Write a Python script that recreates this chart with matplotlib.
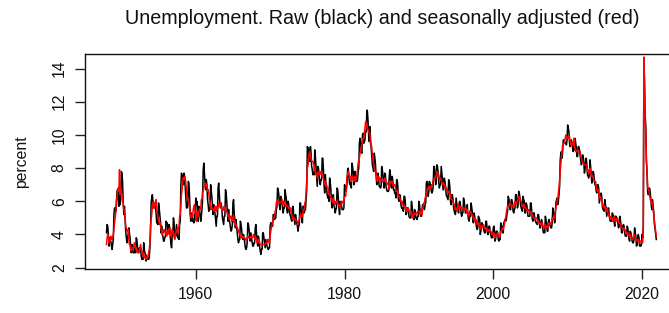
import numpy as np
import matplotlib
matplotlib.use("Agg")
import matplotlib.pyplot as plt

start_year = 1948

# Seasonally adjusted unemployment rate, monthly, one row per year (1948-2021)
sa_rate = [
    [3.4, 3.8, 4.0, 3.9, 3.5, 3.6, 3.6, 3.9, 3.8, 3.7, 3.8, 4.0],
    [4.3, 4.7, 5.0, 5.3, 6.1, 6.2, 6.7, 6.8, 6.6, 7.9, 6.4, 6.6],
    [6.5, 6.4, 6.3, 5.8, 5.5, 5.4, 5.0, 4.5, 4.4, 4.2, 4.2, 4.3],
    [3.7, 3.4, 3.4, 3.1, 3.0, 3.2, 3.1, 3.1, 3.3, 3.5, 3.5, 3.1],
    [3.2, 3.1, 2.9, 2.9, 3.0, 3.0, 3.2, 3.4, 3.1, 3.0, 2.8, 2.7],
    [2.9, 2.6, 2.6, 2.7, 2.5, 2.5, 2.6, 2.7, 2.9, 3.1, 3.5, 4.5],
    [4.9, 5.2, 5.7, 5.9, 5.9, 5.6, 5.8, 6.0, 6.1, 5.7, 5.3, 5.0],
    [4.9, 4.7, 4.6, 4.7, 4.3, 4.2, 4.0, 4.2, 4.1, 4.3, 4.2, 4.2],
    [4.0, 3.9, 4.2, 4.0, 4.3, 4.3, 4.4, 4.1, 3.9, 3.9, 4.3, 4.2],
    [4.2, 3.9, 3.7, 3.9, 4.1, 4.3, 4.2, 4.1, 4.4, 4.5, 5.1, 5.2],
    [5.8, 6.4, 6.7, 7.4, 7.4, 7.3, 7.5, 7.4, 7.1, 6.7, 6.2, 6.2],
    [6.0, 5.9, 5.6, 5.2, 5.1, 5.0, 5.1, 5.2, 5.5, 5.7, 5.8, 5.3],
    [5.2, 4.8, 5.4, 5.2, 5.1, 5.4, 5.5, 5.6, 5.5, 6.1, 6.1, 6.6],
    [6.6, 6.9, 6.9, 7.0, 7.1, 6.9, 7.0, 6.6, 6.7, 6.5, 6.1, 6.0],
    [5.8, 5.5, 5.6, 5.6, 5.5, 5.5, 5.4, 5.7, 5.6, 5.4, 5.7, 5.5],
    [5.7, 5.9, 5.7, 5.7, 5.9, 5.6, 5.6, 5.4, 5.5, 5.5, 5.7, 5.5],
    [5.6, 5.4, 5.4, 5.3, 5.1, 5.2, 4.9, 5.0, 5.1, 5.1, 4.8, 5.0],
    [4.9, 5.1, 4.7, 4.8, 4.6, 4.6, 4.4, 4.4, 4.3, 4.2, 4.1, 4.0],
    [4.0, 3.8, 3.8, 3.8, 3.9, 3.8, 3.8, 3.8, 3.7, 3.7, 3.6, 3.8],
    [3.9, 3.8, 3.8, 3.8, 3.8, 3.9, 3.8, 3.8, 3.8, 4.0, 3.9, 3.8],
    [3.7, 3.8, 3.7, 3.5, 3.5, 3.7, 3.7, 3.5, 3.4, 3.4, 3.4, 3.4],
    [3.4, 3.4, 3.4, 3.4, 3.4, 3.5, 3.5, 3.5, 3.7, 3.7, 3.5, 3.5],
    [3.9, 4.2, 4.4, 4.6, 4.8, 4.9, 5.0, 5.1, 5.4, 5.5, 5.9, 6.1],
    [5.9, 5.9, 6.0, 5.9, 5.9, 5.9, 6.0, 6.1, 6.0, 5.8, 6.0, 6.0],
    [5.8, 5.7, 5.8, 5.7, 5.7, 5.7, 5.6, 5.6, 5.5, 5.6, 5.3, 5.2],
    [4.9, 5.0, 4.9, 5.0, 4.9, 4.9, 4.8, 4.8, 4.8, 4.6, 4.8, 4.9],
    [5.1, 5.2, 5.1, 5.1, 5.1, 5.4, 5.5, 5.5, 5.9, 6.0, 6.6, 7.2],
    [8.1, 8.1, 8.6, 8.8, 9.0, 8.8, 8.6, 8.4, 8.4, 8.4, 8.3, 8.2],
    [7.9, 7.7, 7.6, 7.7, 7.4, 7.6, 7.8, 7.8, 7.6, 7.7, 7.8, 7.8],
    [7.5, 7.6, 7.4, 7.2, 7.0, 7.2, 6.9, 7.0, 6.8, 6.8, 6.8, 6.4],
    [6.4, 6.3, 6.3, 6.1, 6.0, 5.9, 6.2, 5.9, 6.0, 5.8, 5.9, 6.0],
    [5.9, 5.9, 5.8, 5.8, 5.6, 5.7, 5.7, 6.0, 5.9, 6.0, 5.9, 6.0],
    [6.3, 6.3, 6.3, 6.9, 7.5, 7.6, 7.8, 7.7, 7.5, 7.5, 7.5, 7.2],
    [7.5, 7.4, 7.4, 7.2, 7.5, 7.5, 7.2, 7.4, 7.6, 7.9, 8.3, 8.5],
    [8.6, 8.9, 9.0, 9.3, 9.4, 9.6, 9.8, 9.8, 10.1, 10.4, 10.8, 10.8],
    [10.4, 10.4, 10.3, 10.2, 10.1, 10.1, 9.4, 9.5, 9.2, 8.8, 8.5, 8.3],
    [8.0, 7.8, 7.8, 7.7, 7.4, 7.2, 7.5, 7.5, 7.3, 7.4, 7.2, 7.3],
    [7.3, 7.2, 7.2, 7.3, 7.2, 7.4, 7.4, 7.1, 7.1, 7.1, 7.0, 7.0],
    [6.7, 7.2, 7.2, 7.1, 7.2, 7.2, 7.0, 6.9, 7.0, 7.0, 6.9, 6.6],
    [6.6, 6.6, 6.6, 6.3, 6.3, 6.2, 6.1, 6.0, 5.9, 6.0, 5.8, 5.7],
    [5.7, 5.7, 5.7, 5.4, 5.6, 5.4, 5.4, 5.6, 5.4, 5.4, 5.3, 5.3],
    [5.4, 5.2, 5.0, 5.2, 5.2, 5.3, 5.2, 5.2, 5.3, 5.3, 5.4, 5.4],
    [5.4, 5.3, 5.2, 5.4, 5.4, 5.2, 5.5, 5.7, 5.9, 5.9, 6.2, 6.3],
    [6.4, 6.6, 6.8, 6.7, 6.9, 6.9, 6.8, 6.9, 6.9, 7.0, 7.0, 7.3],
    [7.3, 7.4, 7.4, 7.4, 7.6, 7.8, 7.7, 7.6, 7.6, 7.3, 7.4, 7.4],
    [7.3, 7.1, 7.0, 7.1, 7.1, 7.0, 6.9, 6.8, 6.7, 6.8, 6.6, 6.5],
    [6.6, 6.6, 6.5, 6.4, 6.1, 6.1, 6.1, 6.0, 5.9, 5.8, 5.6, 5.5],
    [5.6, 5.4, 5.4, 5.8, 5.6, 5.6, 5.7, 5.7, 5.6, 5.5, 5.6, 5.6],
    [5.6, 5.5, 5.5, 5.6, 5.6, 5.3, 5.5, 5.1, 5.2, 5.2, 5.4, 5.4],
    [5.3, 5.2, 5.2, 5.1, 4.9, 5.0, 4.9, 4.8, 4.9, 4.7, 4.6, 4.7],
    [4.6, 4.6, 4.7, 4.3, 4.4, 4.5, 4.5, 4.5, 4.6, 4.5, 4.4, 4.4],
    [4.3, 4.4, 4.2, 4.3, 4.2, 4.3, 4.3, 4.2, 4.2, 4.1, 4.1, 4.0],
    [4.0, 4.1, 4.0, 3.8, 4.0, 4.0, 4.0, 4.1, 3.9, 3.9, 3.9, 3.9],
    [4.2, 4.2, 4.3, 4.4, 4.3, 4.5, 4.6, 4.9, 5.0, 5.3, 5.5, 5.7],
    [5.7, 5.7, 5.7, 5.9, 5.8, 5.8, 5.8, 5.7, 5.7, 5.7, 5.9, 6.0],
    [5.8, 5.9, 5.9, 6.0, 6.1, 6.3, 6.2, 6.1, 6.1, 6.0, 5.8, 5.7],
    [5.7, 5.6, 5.8, 5.6, 5.6, 5.6, 5.5, 5.4, 5.4, 5.5, 5.4, 5.4],
    [5.3, 5.4, 5.2, 5.2, 5.1, 5.0, 5.0, 4.9, 5.0, 5.0, 5.0, 4.9],
    [4.7, 4.8, 4.7, 4.7, 4.6, 4.6, 4.7, 4.7, 4.5, 4.4, 4.5, 4.4],
    [4.6, 4.5, 4.4, 4.5, 4.4, 4.6, 4.7, 4.6, 4.7, 4.7, 4.7, 5.0],
    [5.0, 4.9, 5.1, 5.0, 5.4, 5.6, 5.8, 6.1, 6.1, 6.5, 6.8, 7.3],
    [7.8, 8.3, 8.7, 9.0, 9.4, 9.5, 9.5, 9.6, 9.8, 10.0, 9.9, 9.9],
    [9.8, 9.8, 9.9, 9.9, 9.6, 9.4, 9.4, 9.5, 9.5, 9.4, 9.8, 9.3],
    [9.1, 9.0, 9.0, 9.1, 9.0, 9.1, 9.0, 9.0, 9.0, 8.8, 8.6, 8.5],
    [8.3, 8.3, 8.2, 8.2, 8.2, 8.2, 8.2, 8.1, 7.8, 7.8, 7.7, 7.9],
    [8.0, 7.7, 7.5, 7.6, 7.5, 7.5, 7.3, 7.2, 7.2, 7.2, 6.9, 6.7],
    [6.6, 6.7, 6.7, 6.2, 6.3, 6.1, 6.2, 6.1, 5.9, 5.7, 5.8, 5.6],
    [5.7, 5.5, 5.4, 5.4, 5.6, 5.3, 5.2, 5.1, 5.0, 5.0, 5.1, 5.0],
    [4.8, 4.9, 5.0, 5.1, 4.8, 4.9, 4.8, 4.9, 5.0, 4.9, 4.7, 4.7],
    [4.7, 4.6, 4.4, 4.4, 4.4, 4.3, 4.3, 4.4, 4.3, 4.2, 4.2, 4.1],
    [4.0, 4.1, 4.0, 4.0, 3.8, 4.0, 3.8, 3.8, 3.7, 3.8, 3.8, 3.9],
    [4.0, 3.8, 3.8, 3.7, 3.6, 3.6, 3.7, 3.6, 3.5, 3.6, 3.6, 3.6],
    [3.5, 3.5, 4.4, 14.7, 13.2, 11.0, 10.2, 8.4, 7.9, 6.9, 6.7, 6.7],
    [6.4, 6.2, 6.0, 6.1, 5.8, 5.9, 5.4, 5.2, 4.8, 4.5, 4.2, 3.9],
]

# Raw (not seasonally adjusted) unemployment rate, monthly, one row per year
raw_rate = [
    [4.1, 4.6, 4.5, 4.0, 3.3, 3.8, 3.6, 3.6, 3.3, 3.1, 3.4, 3.7],
    [5.2, 5.6, 5.6, 5.4, 5.8, 6.6, 6.7, 6.3, 5.7, 6.6, 5.8, 6.1],
    [7.8, 7.7, 7.1, 5.9, 5.2, 5.7, 5.0, 4.2, 3.8, 3.5, 3.8, 4.0],
    [4.4, 4.1, 3.8, 3.2, 2.9, 3.4, 3.1, 2.9, 2.9, 2.9, 3.2, 2.9],
    [3.8, 3.7, 3.2, 3.0, 2.9, 3.2, 3.2, 3.2, 2.7, 2.5, 2.5, 2.5],
    [3.5, 3.1, 2.9, 2.8, 2.4, 2.7, 2.6, 2.5, 2.5, 2.6, 3.2, 4.1],
    [5.9, 6.2, 6.4, 6.0, 5.6, 5.9, 5.8, 5.6, 5.3, 4.7, 4.8, 4.6],
    [5.9, 5.6, 5.2, 4.8, 4.1, 4.5, 4.0, 3.9, 3.6, 3.6, 3.8, 3.9],
    [4.8, 4.7, 4.7, 4.1, 4.1, 4.6, 4.4, 3.8, 3.4, 3.2, 3.9, 3.9],
    [5.0, 4.7, 4.1, 4.0, 3.9, 4.6, 4.2, 3.8, 3.8, 3.7, 4.6, 4.8],
    [7.0, 7.7, 7.5, 7.5, 7.0, 7.7, 7.5, 6.9, 6.2, 5.6, 5.6, 5.7],
    [7.2, 7.1, 6.3, 5.3, 4.8, 5.3, 5.1, 4.8, 4.8, 4.7, 5.2, 4.9],
    [6.2, 5.8, 6.0, 5.3, 4.8, 5.7, 5.5, 5.2, 4.8, 5.1, 5.5, 6.1],
    [7.9, 8.3, 7.7, 7.1, 6.7, 7.3, 7.0, 6.1, 5.8, 5.4, 5.5, 5.5],
    [7.0, 6.6, 6.3, 5.7, 5.2, 5.8, 5.4, 5.3, 4.9, 4.5, 5.1, 5.1],
    [6.8, 7.1, 6.4, 5.8, 5.6, 5.9, 5.6, 5.0, 4.8, 4.6, 5.1, 5.1],
    [6.7, 6.5, 6.0, 5.4, 4.8, 5.5, 4.9, 4.7, 4.4, 4.2, 4.3, 4.6],
    [5.9, 6.1, 5.3, 4.9, 4.4, 4.9, 4.4, 4.1, 3.7, 3.5, 3.7, 3.7],
    [4.8, 4.6, 4.3, 3.9, 3.7, 4.0, 3.8, 3.5, 3.2, 3.1, 3.2, 3.5],
    [4.7, 4.6, 4.3, 3.9, 3.6, 4.1, 3.8, 3.5, 3.3, 3.3, 3.5, 3.5],
    [4.4, 4.6, 4.1, 3.6, 3.3, 3.9, 3.7, 3.3, 3.0, 2.8, 3.1, 3.1],
    [4.1, 4.1, 3.8, 3.5, 3.2, 3.7, 3.5, 3.3, 3.2, 3.1, 3.2, 3.2],
    [4.5, 4.7, 4.7, 4.5, 4.5, 5.2, 5.2, 4.9, 5.1, 5.0, 5.5, 5.7],
    [6.8, 6.7, 6.4, 5.7, 5.5, 6.3, 6.2, 5.9, 5.6, 5.3, 5.6, 5.6],
    [6.7, 6.4, 6.2, 5.5, 5.3, 6.0, 5.8, 5.4, 5.2, 5.1, 4.9, 4.8],
    [5.6, 5.7, 5.2, 4.9, 4.6, 5.2, 4.9, 4.7, 4.5, 4.2, 4.5, 4.6],
    [5.9, 5.9, 5.5, 4.9, 4.7, 5.7, 5.7, 5.3, 5.5, 5.5, 6.1, 6.7],
    [9.3, 9.2, 9.2, 8.5, 8.4, 9.3, 8.9, 8.1, 7.9, 7.6, 7.7, 7.6],
    [9.1, 8.7, 8.1, 7.5, 6.9, 8.1, 8.0, 7.6, 7.1, 7.0, 7.3, 7.3],
    [8.6, 8.6, 7.9, 7.0, 6.5, 7.6, 7.1, 6.8, 6.4, 6.2, 6.3, 6.0],
    [7.4, 7.1, 6.7, 5.9, 5.6, 6.3, 6.4, 5.7, 5.6, 5.3, 5.5, 5.6],
    [6.8, 6.7, 6.2, 5.6, 5.2, 6.0, 5.9, 5.8, 5.5, 5.5, 5.5, 5.6],
    [7.0, 6.9, 6.6, 6.7, 7.1, 7.9, 8.0, 7.5, 7.1, 7.0, 7.1, 6.8],
    [8.3, 8.1, 7.8, 7.0, 7.1, 7.8, 7.4, 7.2, 7.2, 7.3, 7.8, 8.0],
    [9.5, 9.8, 9.5, 9.0, 8.9, 10.0, 10.1, 9.5, 9.6, 9.7, 10.2, 10.2],
    [11.5, 11.4, 10.8, 9.9, 9.6, 10.5, 9.7, 9.2, 8.7, 8.2, 8.0, 7.8],
    [8.9, 8.6, 8.2, 7.5, 7.0, 7.5, 7.7, 7.3, 6.9, 6.9, 6.8, 6.9],
    [8.1, 7.9, 7.6, 7.1, 6.8, 7.7, 7.6, 6.9, 6.7, 6.6, 6.6, 6.6],
    [7.4, 7.9, 7.6, 6.9, 6.8, 7.5, 7.2, 6.7, 6.7, 6.5, 6.5, 6.2],
    [7.3, 7.3, 6.9, 6.1, 6.0, 6.4, 6.3, 5.8, 5.6, 5.6, 5.5, 5.4],
    [6.3, 6.3, 6.0, 5.2, 5.3, 5.6, 5.6, 5.4, 5.1, 5.0, 5.0, 5.0],
    [6.0, 5.7, 5.3, 5.0, 4.9, 5.5, 5.4, 5.0, 5.0, 4.9, 5.1, 5.1],
    [6.0, 5.8, 5.4, 5.1, 5.1, 5.5, 5.8, 5.8, 5.6, 5.5, 5.8, 5.9],
    [7.1, 7.2, 7.1, 6.3, 6.6, 7.2, 7.1, 7.0, 6.6, 6.5, 6.6, 6.9],
    [8.1, 8.1, 7.7, 7.0, 7.2, 8.2, 8.1, 7.7, 7.2, 6.8, 7.0, 7.0],
    [8.1, 7.7, 7.3, 6.7, 6.7, 7.4, 7.2, 6.9, 6.4, 6.3, 6.2, 6.1],
    [7.3, 7.2, 6.8, 6.0, 5.8, 6.4, 6.4, 6.1, 5.6, 5.4, 5.3, 5.2],
    [6.2, 5.9, 5.6, 5.5, 5.3, 5.9, 6.0, 5.8, 5.3, 5.1, 5.3, 5.3],
    [6.2, 6.0, 5.7, 5.3, 5.3, 5.6, 5.8, 5.2, 4.9, 4.8, 5.1, 5.1],
    [5.9, 5.7, 5.4, 4.8, 4.7, 5.3, 5.1, 4.8, 4.7, 4.4, 4.3, 4.4],
    [5.1, 5.0, 4.9, 4.0, 4.2, 4.7, 4.7, 4.5, 4.4, 4.2, 4.1, 4.1],
    [4.8, 4.8, 4.4, 4.0, 4.0, 4.5, 4.5, 4.2, 4.0, 3.8, 3.9, 3.8],
    [4.4, 4.5, 4.2, 3.6, 3.8, 4.2, 4.2, 4.1, 3.7, 3.6, 3.7, 3.7],
    [4.7, 4.6, 4.5, 4.1, 4.1, 4.7, 4.8, 4.9, 4.8, 4.9, 5.2, 5.4],
    [6.3, 6.2, 5.9, 5.5, 5.5, 6.1, 6.1, 5.8, 5.4, 5.3, 5.5, 5.6],
    [6.4, 6.4, 6.1, 5.6, 5.8, 6.6, 6.5, 6.2, 5.8, 5.6, 5.5, 5.4],
    [6.3, 6.1, 6.0, 5.3, 5.3, 5.9, 5.8, 5.5, 5.1, 5.1, 5.1, 5.1],
    [5.9, 5.9, 5.4, 4.9, 4.8, 5.3, 5.3, 4.9, 4.8, 4.7, 4.7, 4.6],
    [5.2, 5.2, 4.9, 4.4, 4.4, 4.8, 4.9, 4.7, 4.3, 4.1, 4.2, 4.1],
    [5.1, 4.9, 4.6, 4.2, 4.2, 4.8, 4.9, 4.6, 4.5, 4.4, 4.4, 4.7],
    [5.6, 5.3, 5.3, 4.7, 5.1, 5.9, 6.1, 6.2, 5.8, 6.0, 6.4, 6.9],
    [8.5, 8.9, 9.0, 8.6, 9.1, 9.7, 9.7, 9.6, 9.5, 9.5, 9.4, 9.7],
    [10.6, 10.4, 10.2, 9.5, 9.3, 9.6, 9.7, 9.5, 9.2, 9.0, 9.3, 9.1],
    [9.8, 9.5, 9.2, 8.7, 8.7, 9.3, 9.3, 9.1, 8.8, 8.5, 8.2, 8.3],
    [8.8, 8.7, 8.4, 7.7, 7.9, 8.4, 8.6, 8.2, 7.6, 7.5, 7.4, 7.6],
    [8.5, 8.1, 7.6, 7.1, 7.3, 7.8, 7.7, 7.3, 7.0, 7.0, 6.6, 6.5],
    [7.0, 7.0, 6.8, 5.9, 6.1, 6.3, 6.5, 6.3, 5.7, 5.5, 5.5, 5.4],
    [6.1, 5.8, 5.6, 5.1, 5.3, 5.5, 5.6, 5.2, 4.9, 4.8, 4.8, 4.8],
    [5.3, 5.2, 5.1, 4.7, 4.5, 5.1, 5.1, 5.0, 4.8, 4.7, 4.4, 4.5],
    [5.1, 4.9, 4.6, 4.1, 4.1, 4.5, 4.6, 4.5, 4.1, 3.9, 3.9, 3.9],
    [4.5, 4.4, 4.1, 3.7, 3.6, 4.2, 4.1, 3.9, 3.6, 3.5, 3.5, 3.7],
    [4.4, 4.1, 3.9, 3.3, 3.4, 3.8, 4.0, 3.8, 3.3, 3.4, 3.3, 3.4],
    [4.0, 3.8, 4.5, 14.4, 13.0, 11.2, 10.5, 8.5, 7.7, 6.6, 6.4, 6.5],
    [6.8, 6.6, 6.2, 5.7, 5.5, 6.1, 5.7, 5.3, 4.6, 4.3, 4.0, 3.7],
]

x_ticks = [1960, 1980, 2000, 2020]
y_ticks = [2, 4, 6, 8, 10, 12, 14]
title_text = "Unemployment. Raw (black) and seasonally adjusted (red)"
y_label = "percent"

sa = np.array(sa_rate).ravel()
raw = np.array(raw_rate).ravel()
t = start_year + np.arange(raw.size) / 12.0

plt.rcParams['font.family'] = ['Liberation Sans', 'DejaVu Sans']

W, H = 669, 313
fig = plt.figure(figsize=(W / 100, H / 100), dpi=100)

# R-style 4% axis extension
xr = t.max() - t.min()
xlim = (t.min() - 0.04 * xr, t.max() + 0.04 * xr)
yr = raw.max() - raw.min()
ylim = (raw.min() - 0.04 * yr, raw.max() + 0.04 * yr)

left_px, right_px = 84.5, 678.3
top_px, bottom_px = 54.0, 269.0
ax = fig.add_axes([left_px / W, 1 - bottom_px / H,
                   (right_px - left_px) / W, (bottom_px - top_px) / H])

ax.plot(t, raw, color='black', lw=1.1)
ax.plot(t, sa, color='red', lw=1.1)

ax.set_xlim(*xlim)
ax.set_ylim(*ylim)
ax.set_xticks(x_ticks)
ax.set_yticks(y_ticks)
ax.set_xticklabels([str(v) for v in x_ticks])
ax.set_yticklabels([str(v) for v in y_ticks], rotation=90, va='center')

for s in ax.spines.values():
    s.set_linewidth(1.0)
    s.set_color('#111111')

ax.tick_params(axis='both', direction='out', length=7.2, width=1.0,
               color='#222222', labelsize=11.3, labelcolor='#111111')
ax.tick_params(axis='x', pad=6.0)
ax.tick_params(axis='y', pad=5.5)

fig.text(22 / W, 1 - 161.5 / H, y_label, rotation=90, ha='center', va='center',
         fontsize=11.3, color='#111111')
fig.text(382 / W, 1 - 19 / H, title_text, ha='center', va='center',
         fontsize=14.2, color='#111111')

fig.savefig('out.png', dpi=100)
